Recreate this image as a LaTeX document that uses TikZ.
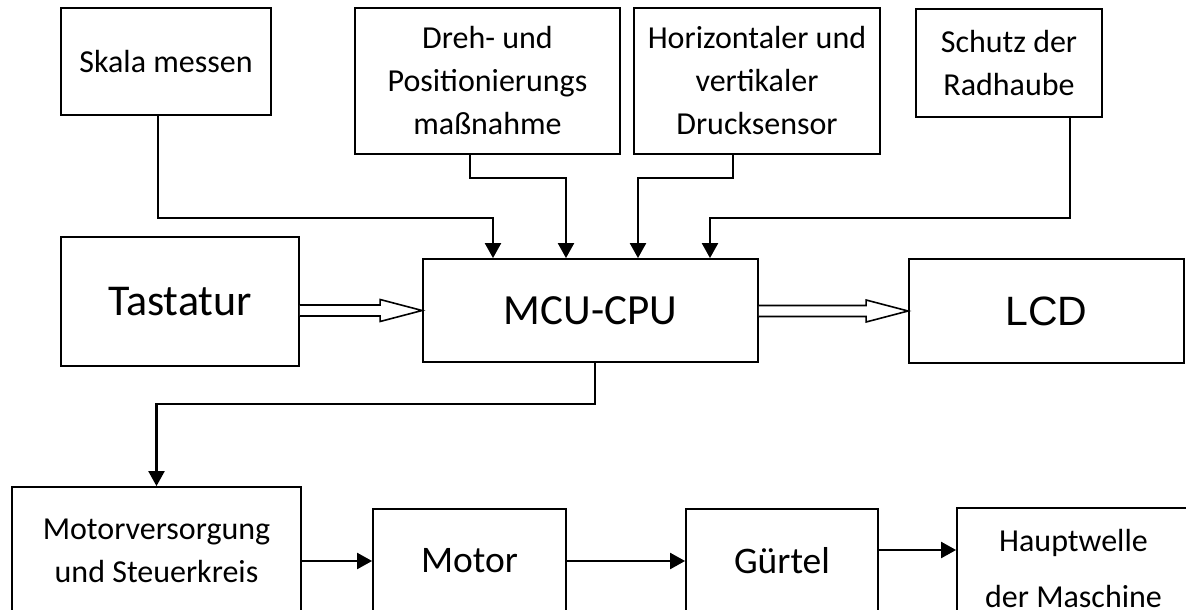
\documentclass[tikz,border=0pt]{standalone}
\usepackage{fontspec}
\setmainfont{Carlito}
\newfontfamily\arialfont{Liberation Sans}
\usepackage{tikz}
\usetikzlibrary{arrows.meta, calc}

\newcommand{\fatarrow}[2]{%
  \draw[line width=1.6pt, line join=miter, fill=white]
    ($(#1.east |- #2.west)+(0,5.5)$) -- ($(#2.west)+(-42,5.5)$) -- ($(#2.west)+(-42,11)$)
    -- (#2.west) -- ($(#2.west)+(-42,-11)$) -- ($(#2.west)+(-42,-5.5)$)
    -- ($(#1.east |- #2.west)+(0,-5.5)$);}

\begin{document}
\begin{tikzpicture}[
    x=1pt, y=-1pt,
    block/.style={draw, line width=1.8pt, align=center, inner sep=0pt, fill=white},
    smalltext/.style={font=\fontsize{32}{43}\selectfont},
    bigtext/.style={font=\fontsize{43}{50}\selectfont},
    midtext/.style={font=\fontsize{37.5}{44}\selectfont},
    conn/.style={line width=2.2pt, -{Triangle[length=15pt, width=16pt]}}
]
\clip (0,0) rectangle (1186,610);
\fill[white] (0,0) rectangle (1186,610);
\node[block, smalltext, minimum width=210pt, minimum height=107pt] (skala)  at (166,61.5)  {Skala messen};
\node[block, smalltext, minimum width=265pt, minimum height=146pt] (dreh)   at (487.5,81)  {Dreh- und\\Positionierungs\\maßnahme};
\node[block, smalltext, minimum width=246pt, minimum height=146pt] (druck)  at (757,81)    {Horizontaler und\\vertikaler\\Drucksensor};
\node[block, smalltext, minimum width=186pt, minimum height=108pt] (schutz) at (1009,63)   {Schutz der\\Radhaube};
\node[block, font=\fontsize{44}{50}\selectfont, minimum width=238pt, minimum height=129pt] (tast) at (180,301.5) {Tastatur};
\node[block, bigtext, minimum width=335pt, minimum height=103pt] (mcu)  at (590.5,310.5) {MCU-CPU};
\node[block, font=\arialfont\fontsize{41}{48}\selectfont, minimum width=275pt, minimum height=104pt] (lcd) at (1046.5,311) {LCD};
\node[block, smalltext, minimum width=289pt, minimum height=127pt] (motorv) at (156.5,550.5) {Motorversorgung\\und Steuerkreis};
\node[block, midtext, minimum width=193pt, minimum height=104pt] (motor)   at (469.5,561) {Motor};
\node[block, midtext, minimum width=192pt, minimum height=104pt] (guertel) at (782,561)   {Gürtel};
\node[block, font=\fontsize{32}{56}\selectfont, minimum width=233pt, minimum height=122pt] (haupt) at (1073.5,569) {Hauptwelle\\der Maschine};
\coordinate (in1) at ([xshift=-97.5pt]mcu.north);
\coordinate (in2) at ([xshift=-24.5pt]mcu.north);
\coordinate (in3) at ([xshift=47.5pt]mcu.north);
\coordinate (in4) at ([xshift=119.5pt]mcu.north);
\draw[conn] ([xshift=-8pt]skala.south) -- ++(0,102) -| (in1);
\draw[conn] ([xshift=-17.5pt]dreh.south) -- ++(0,23) -| (in2);
\draw[conn] ([xshift=-24pt]druck.south) -- ++(0,23) -| (in3);
\draw[conn] ([xshift=61pt]schutz.south) -- ++(0,100) -| (in4);
\fatarrow{tast}{mcu}
\fatarrow{mcu}{lcd}
\draw[conn] ([xshift=4.5pt]mcu.south) -- ++(0,41) -| (motorv.north);
\draw[conn] (motorv.east |- motor.west) -- (motor.west);
\draw[conn] (motor.east) -- (guertel.west);
\coordinate (g1) at ([yshift=11pt]guertel.east);
\draw[conn] (g1) -- (g1 -| haupt.west);
\end{tikzpicture}
\end{document}
